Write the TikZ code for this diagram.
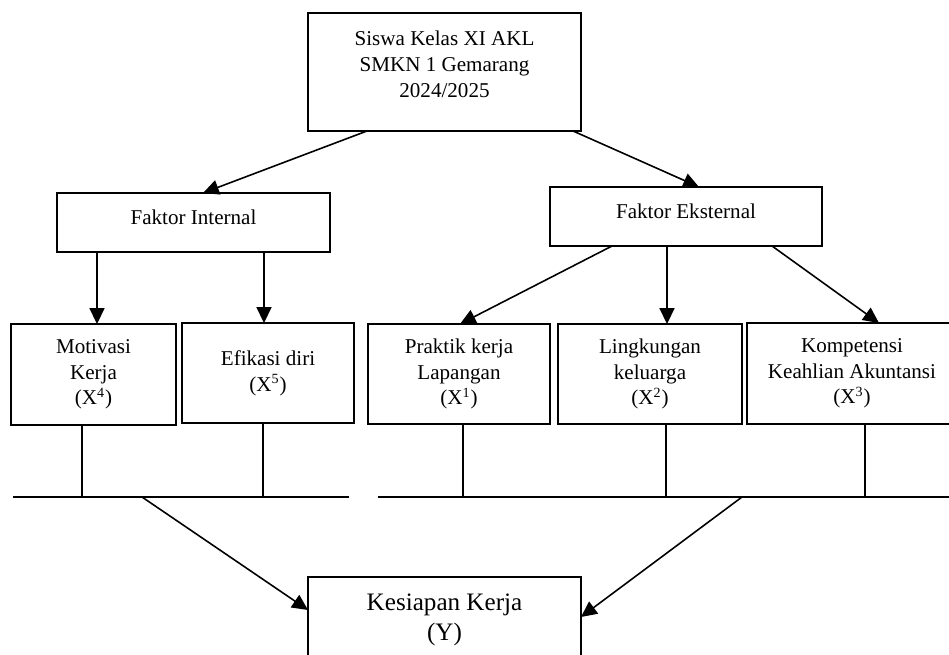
\documentclass[tikz,border=0pt]{standalone}
\usepackage{fontspec}
\setmainfont{Liberation Serif}
\usetikzlibrary{arrows.meta}
\tikzset{
  kk box/.style={draw=black, line width=1.1pt, inner sep=0pt, outer sep=0pt, align=center, font=\fontsize{12}{14.6}\selectfont},
  kk line/.style={draw=black, line width=0.9pt},
  kk arrow/.style={kk line, -{Triangle[length=9pt,width=8.5pt]}},
}

\begin{document}
\begin{tikzpicture}[x=0.02cm,y=-0.02cm]
  % page frame (the bottom box and the right box run off the page)
  \useasboundingbox (0,0) rectangle (949,655);
  \clip (0,0) rectangle (949,655);
  % top box
  \node[kk box, minimum width=5.46cm, minimum height=2.36cm, text depth=9pt] (siswa) at (444.5,72)
    {Siswa Kelas XI AKL\\SMKN 1 Gemarang\\2024/2025};
  % the two groups of factors
  \node[kk box, minimum width=5.46cm, minimum height=1.18cm, text depth=6.5pt] (fi) at (193.5,222.5) {Faktor Internal};
  \node[kk box, minimum width=5.44cm, minimum height=1.18cm, text depth=6.5pt] (fe) at (686,216.5) {Faktor Eksternal};
  % variables
  \node[kk box, minimum width=3.3cm, minimum height=2.02cm] (mot) at (93.5,374.5) {Motivasi\\Kerja\\(X\textsuperscript{4})};
  \node[kk box, minimum width=3.44cm, minimum height=2cm] (efi) at (268,373) {Efikasi diri\\(X\textsuperscript{5})};
  \node[kk box, minimum width=3.64cm, minimum height=2cm] (pkl) at (459,374) {Praktik kerja\\Lapangan\\(X\textsuperscript{1})};
  \node[kk box, minimum width=3.68cm, minimum height=2cm] (lk) at (650,374) {Lingkungan\\keluarga\\(X\textsuperscript{2})};
  \node[kk box, minimum width=4.2cm, minimum height=2.02cm] (kom) at (852,373.5) {Kompetensi\\Keahlian Akuntansi\\(X\textsuperscript{3})};
  % outcome
  \node[kk box, minimum width=5.46cm, minimum height=1.72cm, font=\fontsize{14.3}{17}\selectfont] (ky) at (444.5,620) {Kesiapan Kerja\\(Y)};

  % arrows from the top box
  \draw[kk arrow] (siswa.south -| 367,0) -- (fi.north -| 203,0);
  \draw[kk arrow] (siswa.south -| 573,0) -- (fe.north -| 699,0);
  % internal factors
  \draw[kk arrow] (fi.south -| 97,0) -- (mot.north -| 97,0);
  \draw[kk arrow] (fi.south -| 264,0) -- (efi.north -| 264,0);
  % external factors
  \draw[kk arrow] (fe.south -| 612,0) -- (pkl.north -| 460,0);
  \draw[kk arrow] (fe.south -| 667,0) -- (lk.north -| 667,0);
  \draw[kk arrow] (fe.south -| 772,0) -- (kom.north -| 879,0);

  % collecting lines
  \coordinate (busL) at (13,497);
  \coordinate (busLend) at (349,497);
  \coordinate (busR) at (378,497);
  \coordinate (busRend) at (960,497);
  \draw[kk line] (busL) -- (busLend);
  \draw[kk line] (busR) -- (busRend);
  \foreach \n/\x in {mot/82, efi/263, pkl/463, lk/666, kom/865}
    \draw[kk line] (\n.south -| \x,0) -- (\x,0 |- busL);

  % into the outcome
  \draw[kk arrow] (142,0 |- busL) -- (ky.west |- 0,610);
  \draw[kk arrow] (742,0 |- busR) -- (ky.east |- 0,617);
\end{tikzpicture}
\end{document}
